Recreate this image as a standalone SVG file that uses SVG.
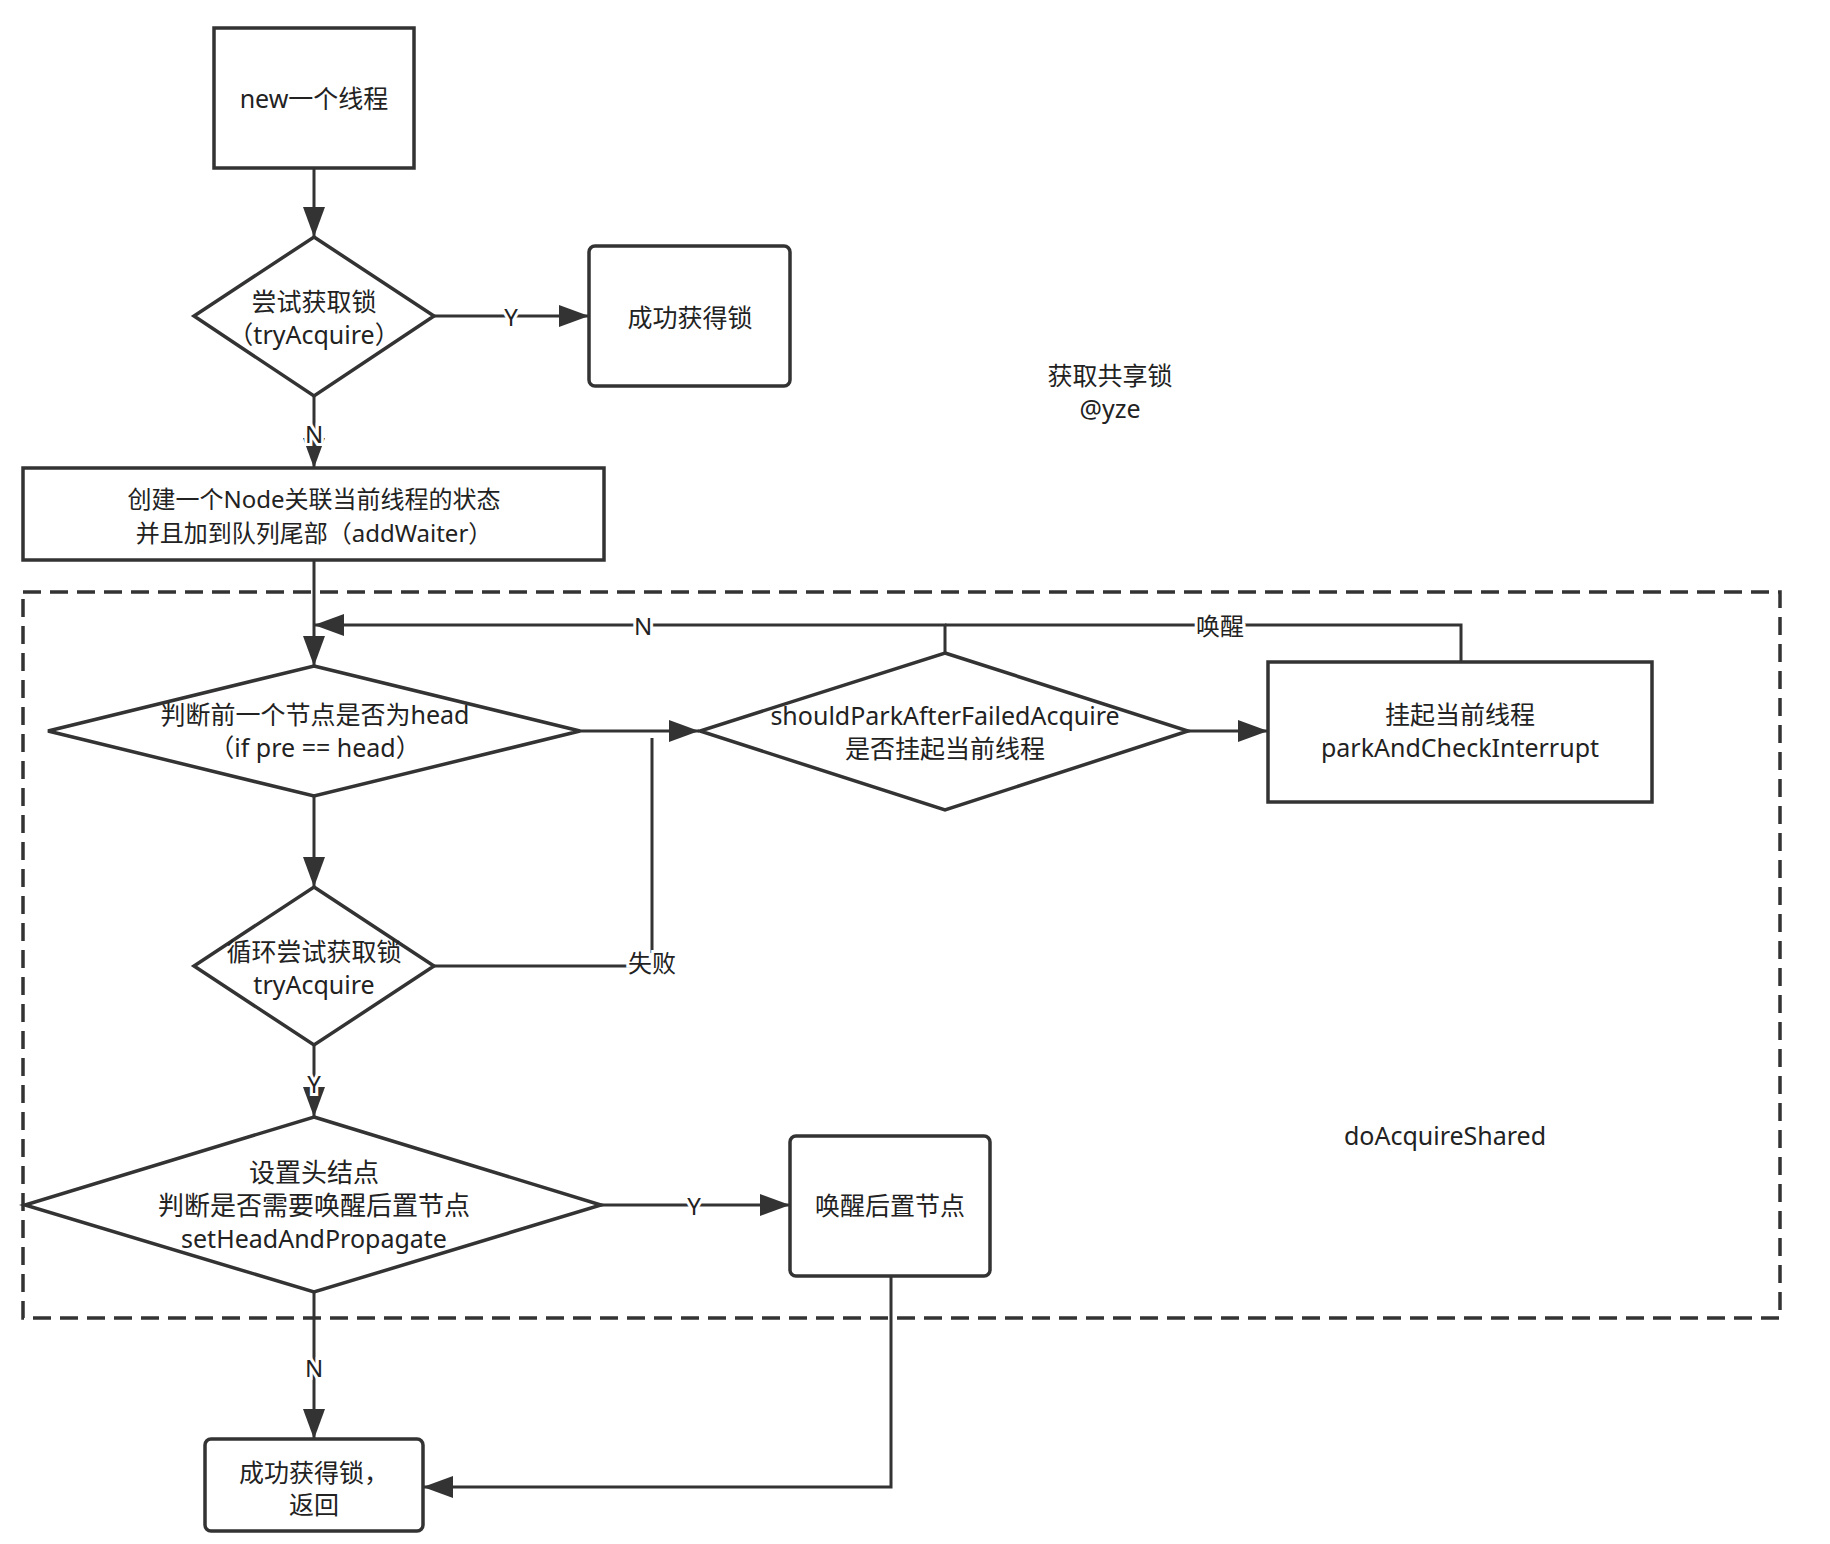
<svg xmlns="http://www.w3.org/2000/svg" width="1830" height="1544" viewBox="0 0 1830 1544">
<style>
  .shape { fill: #ffffff; stroke: #333333; stroke-width: 3.5; }
  .conn { fill: none; stroke: #333333; stroke-width: 3; }
  .t { font-family: "Noto Sans", "Noto Sans CJK SC", sans-serif; font-size: 25px; fill: #222222; text-anchor: middle; dominant-baseline: central; }
  .lbl { font-family: "Noto Sans", "Noto Sans CJK SC", sans-serif; font-size: 24px; fill: #222222; text-anchor: middle; dominant-baseline: central; stroke: #ffffff; stroke-width: 6; paint-order: stroke; }
  .group { fill: none; stroke: #333333; stroke-width: 3.5; stroke-dasharray: 18 9; }
</style>
<defs>
  <marker id="arr" markerUnits="userSpaceOnUse" markerWidth="30" markerHeight="22" refX="30" refY="11" orient="auto">
    <path d="M0,0 L30,11 L0,22 Z" fill="#333333"/>
  </marker>
</defs>
<rect width="1830" height="1544" fill="#ffffff"/>

<g id="group-doAcquireShared">
  <rect class="group" x="23" y="592" width="1757" height="726"/>
  <text class="t" x="1445" y="1135">doAcquireShared</text>
</g>

<g id="title">
  <text class="t" x="1110" y="375">获取共享锁</text>
  <text class="t" x="1110" y="408">@yze</text>
</g>

<g id="connectors">
  <path class="conn" d="M314,168 V237" marker-end="url(#arr)"/>
  <path class="conn" d="M434,316 H589" marker-end="url(#arr)"/>
  <path class="conn" d="M314,396 V468" marker-end="url(#arr)"/>
  <path class="conn" d="M314,560 V666" marker-end="url(#arr)"/>
  <path class="conn" d="M945,653 V625 H314" marker-end="url(#arr)"/>
  <path class="conn" d="M1461,662 V625 H945"/>
  <path class="conn" d="M580,731 H699" marker-end="url(#arr)"/>
  <path class="conn" d="M314,796 V887" marker-end="url(#arr)"/>
  <path class="conn" d="M434,966 H652 V738"/>
  <path class="conn" d="M314,1045 V1117" marker-end="url(#arr)"/>
  <path class="conn" d="M1188,731 H1268" marker-end="url(#arr)"/>
  <path class="conn" d="M601,1205 H790" marker-end="url(#arr)"/>
  <path class="conn" d="M314,1292 V1439" marker-end="url(#arr)"/>
  <path class="conn" d="M891,1276 V1487 H423" marker-end="url(#arr)"/>
  <text class="lbl" x="511" y="316">Y</text>
  <text class="lbl" x="314" y="433">N</text>
  <text class="lbl" x="643" y="625">N</text>
  <text class="lbl" x="1220" y="625">唤醒</text>
  <text class="lbl" x="652" y="962">失败</text>
  <text class="lbl" x="314" y="1083">Y</text>
  <text class="lbl" x="694" y="1205">Y</text>
  <text class="lbl" x="314" y="1367">N</text>
</g>

<g id="node-new">
  <rect class="shape" x="214" y="28" width="200" height="140"/>
  <text class="t" x="314" y="98">new一个线程</text>
</g>

<g id="node-tryAcquire">
  <polygon class="shape" points="314,237 434,316 314,396 194,316"/>
  <text class="t" x="314" y="301">尝试获取锁</text>
  <text class="t" x="314" y="334">（tryAcquire）</text>
</g>

<g id="node-success1">
  <rect class="shape" x="589" y="246" width="201" height="140" rx="6"/>
  <text class="t" x="690" y="317">成功获得锁</text>
</g>

<g id="node-addWaiter">
  <rect class="shape" x="23" y="468" width="581" height="92"/>
  <text class="t" x="314" y="498" style="font-size:24px">创建一个Node关联当前线程的状态</text>
  <text class="t" x="314" y="532" style="font-size:24px">并且加到队列尾部（addWaiter）</text>
</g>

<g id="node-isHead">
  <polygon class="shape" points="314,666 580,731 314,796 48,731"/>
  <text class="t" x="315" y="714">判断前一个节点是否为head</text>
  <text class="t" x="315" y="747">（if pre == head）</text>
</g>

<g id="node-shouldPark">
  <polygon class="shape" points="945,653 1188,731 945,810 700,731"/>
  <text class="t" x="945" y="715">shouldParkAfterFailedAcquire</text>
  <text class="t" x="945" y="748">是否挂起当前线程</text>
</g>

<g id="node-park">
  <rect class="shape" x="1268" y="662" width="384" height="140"/>
  <text class="t" x="1460" y="714">挂起当前线程</text>
  <text class="t" x="1460" y="747">parkAndCheckInterrupt</text>
</g>

<g id="node-loopTry">
  <polygon class="shape" points="314,887 434,966 314,1045 194,966"/>
  <text class="t" x="314" y="951">循环尝试获取锁</text>
  <text class="t" x="314" y="984">tryAcquire</text>
</g>

<g id="node-setHead">
  <polygon class="shape" points="314,1117 601,1205 314,1292 25,1205"/>
  <text class="t" x="314" y="1172" style="font-size:26px">设置头结点</text>
  <text class="t" x="314" y="1205" style="font-size:26px">判断是否需要唤醒后置节点</text>
  <text class="t" x="314" y="1238">setHeadAndPropagate</text>
</g>

<g id="node-wakeNext">
  <rect class="shape" x="790" y="1136" width="200" height="140" rx="6"/>
  <text class="t" x="890" y="1205">唤醒后置节点</text>
</g>

<g id="node-success2">
  <rect class="shape" x="205" y="1439" width="218" height="92" rx="6"/>
  <text class="t" x="314" y="1472">成功获得锁，</text>
  <text class="t" x="314" y="1504">返回</text>
</g>
</svg>
